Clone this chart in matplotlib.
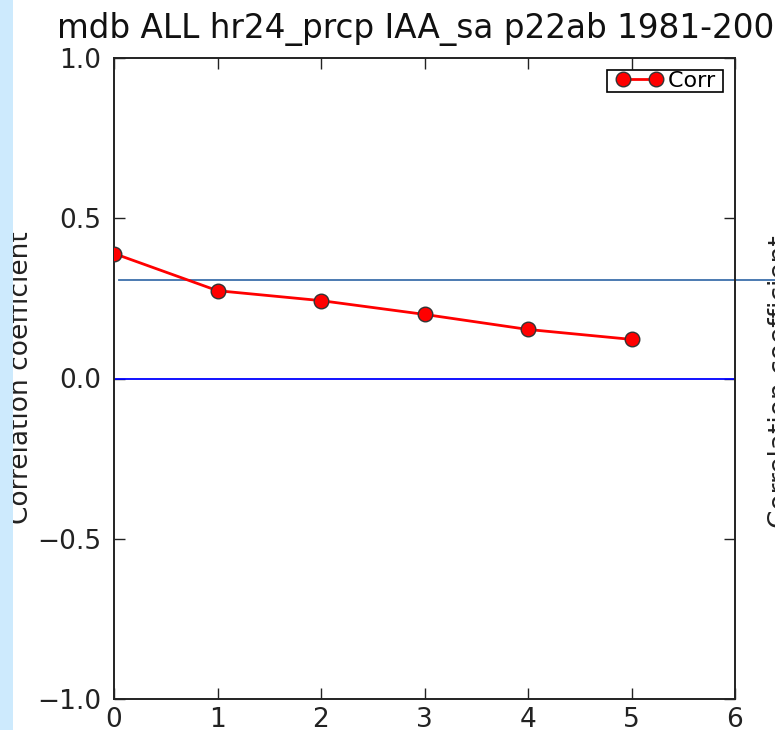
import matplotlib
matplotlib.use("Agg")
import matplotlib.pyplot as plt
from matplotlib.patches import Rectangle
from matplotlib.legend_handler import HandlerLine2D

# data
lag = [0, 1, 2, 3, 4, 5]
corr = [0.390, 0.274, 0.243, 0.200, 0.153, 0.122]
sig_level = 0.307
title = "mdb ALL hr24_prcp IAA_sa p22ab 1981-2000"
ylab = "Correlation coefficient"

W, H = 775, 730
fig = plt.figure(figsize=(W / 100, H / 100), dpi=100)
ax = fig.add_axes([114 / W, 31 / H, 621 / W, 641 / H])

line, = ax.plot(lag, corr, "-o", color="red", lw=2.0, ms=10.5,
                markerfacecolor="red", markeredgecolor="#333333", mew=1.0,
                label="Corr ", zorder=4)
ax.axhline(0, color="blue", lw=1.3)
ax.plot([0.05, 6.8], [sig_level, sig_level], color="#3d6fab", lw=1.3,
        clip_on=False)

ax.set_xlim(0, 6)
ax.set_ylim(-1, 1)
ax.set_xticks(range(7))
ax.set_yticks([-1.0, -0.5, 0.0, 0.5, 1.0])
ax.set_yticklabels(["\u22121.0", "\u22120.5", "0.0", "0.5", "1.0"])
ax.tick_params(direction="in", length=8, width=1, top=True, right=True,
               labelsize=19, colors="#222222")
ax.tick_params(axis="y", pad=9)
ax.tick_params(axis="x", pad=6)
for s in ax.spines.values():
    s.set_linewidth(1.4)
    s.set_color("#222222")

leg = ax.legend(loc="upper right", numpoints=2, fontsize=16, fancybox=False,
                framealpha=1, borderpad=0.03, handlelength=2.85,
                handletextpad=-0.15, borderaxespad=0.55,
                handler_map={line: HandlerLine2D(marker_pad=0.68)})
leg.get_frame().set_edgecolor("black")
leg.get_frame().set_linewidth(1.2)

fig.text(57 / W, 1 - 38 / H, title, ha="left", va="baseline", fontsize=23.5,
         color="#111111")
fig.text(28 / W, 1 - 378 / H, ylab, rotation=90, rotation_mode="anchor",
         ha="center", va="baseline", fontsize=19, color="#222222")
fig.text(788 / W, 1 - 382 / H, ylab, rotation=90, rotation_mode="anchor",
         ha="center", va="baseline", fontsize=19, color="#222222")

# light blue strip on the left edge
fig.patches.append(Rectangle((0, 0), 13 / W, 1, transform=fig.transFigure,
                             facecolor="#cdeafd", edgecolor="none", zorder=10))

fig.savefig("out.png", dpi=100)
